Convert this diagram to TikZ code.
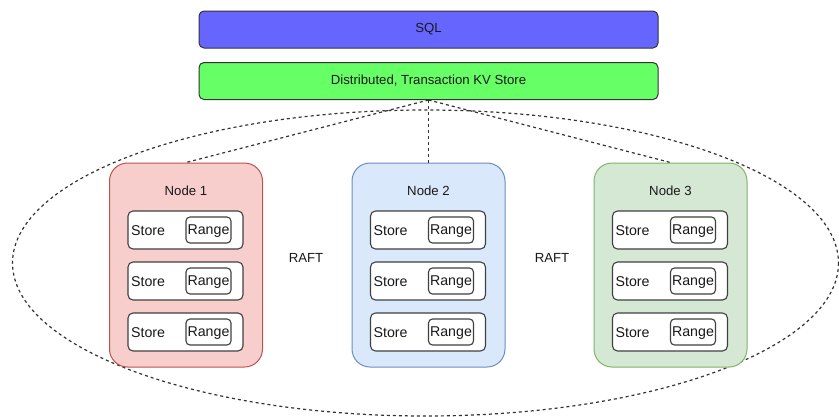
\documentclass[tikz,border=0pt]{standalone}
\usepackage{fontspec}
\setmainfont{Liberation Sans}
\begin{document}
\begin{tikzpicture}[x=1pt,y=-1pt,
  every node/.style={font=\fontsize{13.2}{15}\selectfont, text=black!90, inner sep=0pt},
  small/.style={font=\fontsize{14.2}{16}\selectfont},
  layer/.style={draw=black!80, line width=1pt, rounded corners=5pt, minimum width=459pt, minimum height=37pt},
  container/.style={line width=1pt, rounded corners=18pt, minimum width=153pt, minimum height=204pt},
  storebox/.style={draw=black!75, line width=1.1pt, fill=white, rounded corners=5pt, minimum width=115pt, minimum height=38pt},
  rangebox/.style={draw=black!75, line width=1.1pt, fill=white, rounded corners=4pt, minimum width=45pt, minimum height=26pt},
  link/.style={draw=black!80, line width=1.2pt, dash pattern=on 3pt off 3pt}
]
\clip (0,0) rectangle (839,416);
\fill[white] (0,0) rectangle (839,416);
\definecolor{sqlc}{HTML}{6666FF}
\definecolor{kvc}{HTML}{66FF66}
\definecolor{redf}{HTML}{F8CECC}\definecolor{redd}{HTML}{B85450}
\definecolor{bluef}{HTML}{DAE8FC}\definecolor{blued}{HTML}{6C8EBF}
\definecolor{greenf}{HTML}{D5E8D4}\definecolor{greend}{HTML}{82B366}

\draw[link] (425.5,263) ellipse [x radius=413, y radius=153];

\node[layer, fill=sqlc] (sql) at (428.5,29.5) {SQL};
\node[layer, fill=kvc] (kv) at (428.5,81) {Distributed, Transaction KV Store};

\node[container, draw=redd, fill=redf] (n1) at (186,265) {};
\node[container, draw=blued, fill=bluef] (n2) at (428.5,265) {};
\node[container, draw=greend, fill=greenf] (n3) at (670.5,265) {};

\draw[link] (kv.south) -- (n1.north);
\draw[link] (kv.south) -- (n2.north);
\draw[link] (kv.south) -- (n3.north);

\foreach \n/\cx/\lab in {n1/186/Node 1, n2/428.5/Node 2, n3/670.5/Node 3}{
  \node (\n t) at (\cx,191) {\lab};
  \foreach \r/\cy in {a/230, b/281, c/332}{
    \node[storebox] (\n\r) at (\cx-0.5,\cy) {};
    \node[small, anchor=west] (\n\r s) at ([xshift=3.5pt,yshift=-1pt]\n\r.west) {Store};
    \node[rangebox] (\n\r r) at (\cx+22.5,\cy) {};
    \node[small] (\n\r rt) at ([yshift=-1pt]\n\r r) {Range};
  }
}

\node (raft1) at (306,258) {RAFT};
\node (raft2) at (552,258) {RAFT};
\end{tikzpicture}
\end{document}
